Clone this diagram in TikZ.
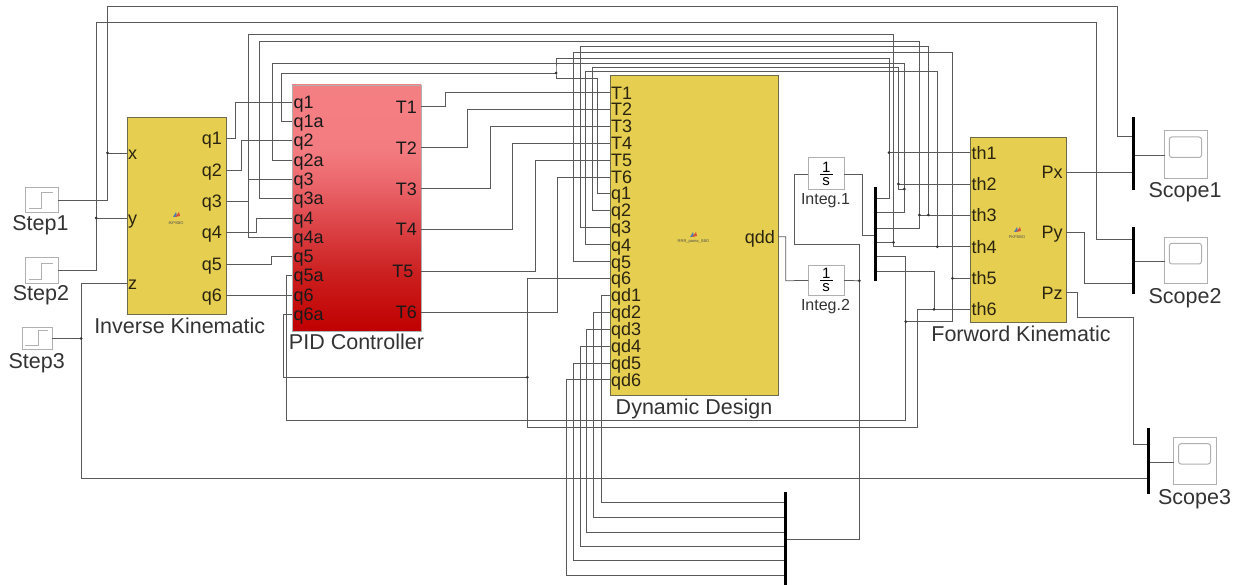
\documentclass[tikz,border=0pt]{standalone}
\usepackage{fontspec}
\setmainfont{Liberation Sans}
\definecolor{yel}{HTML}{E6CF50}
\definecolor{yeledge}{HTML}{6E6A4C}
\definecolor{wirec}{HTML}{5A5A5A}
\definecolor{boxc}{HTML}{B0B0B0}
\definecolor{txt}{HTML}{333333}
\definecolor{ptxt}{HTML}{2A2410}
\definecolor{pa}{HTML}{C00000}
\definecolor{pb}{HTML}{CC2020}
\definecolor{pc}{HTML}{DF4A4E}
\definecolor{pd}{HTML}{EC6A6F}
\definecolor{pe}{HTML}{F37C80}
\definecolor{pf}{HTML}{F47F83}
\definecolor{logoa}{HTML}{4A7FB5}
\definecolor{logob}{HTML}{D9553A}
\pgfdeclareverticalshading{pidsh}{100bp}{color(0bp)=(pa);color(25bp)=(pa);color(37bp)=(pb);color(48bp)=(pc);color(56bp)=(pd);color(62bp)=(pe);color(75bp)=(pf);color(100bp)=(pf)}
\tikzset{
 wire/.style={draw=wirec,line width=0.75pt},
 jdot/.style={circle,fill=black!80,inner sep=0pt,minimum size=3pt},
 subsys/.style={draw=yeledge,line width=1pt,fill=yel,inner sep=0pt,outer sep=0pt},
 graybox/.style={draw=boxc,line width=1pt,fill=white,inner sep=0pt,outer sep=0pt},
 barnode/.style={fill=black,inner sep=0pt,outer sep=0pt,minimum width=3.6pt},
 lab/.style={font=\fontsize{21.5}{21.5}\selectfont,text=txt,inner sep=0pt,text height=15pt,text depth=0pt},
 intlab/.style={font=\fontsize{16}{16}\selectfont,text=txt,inner sep=0pt,text height=11.5pt,text depth=0pt},
 frac/.style={font=\fontsize{15}{15}\selectfont,text=black,inner sep=0pt},
 portl/.style={font=\fontsize{18}{18}\selectfont,text=ptxt,inner sep=0pt,anchor=west,text height=12.9pt,text depth=0pt},
 portr/.style={portl,anchor=east},
 tiny/.style={font=\fontsize{4}{4}\selectfont,text=black!70,inner sep=0pt},
}
\newcommand{\logo}[2]{\fill[logoa] (#1-3,#2+2) -- (#1,#2-3) -- (#1+1,#2+2) -- cycle;
 \fill[logob] (#1-1,#2+2) -- (#1+3,#2-3) -- (#1+4,#2+1) -- cycle;}
\begin{document}
\begin{tikzpicture}[x=1pt,y=-1pt]
\useasboundingbox (0,0) rectangle (1236,585);
% blocks
\node[graybox,minimum width=33pt,minimum height=25pt] (s1) at (41.5,200.5) {};
\node[graybox,minimum width=33pt,minimum height=25pt] (s2) at (41.5,270.5) {};
\node[graybox,minimum width=30pt,minimum height=22pt] (s3) at (37,338.5) {};
\draw[boxc,line width=0.9pt] (29,208)--(41.7,208)--(41.7,192.7)--(53,192.7);
\draw[boxc,line width=0.9pt] (29,279.5)--(41.7,279.5)--(41.7,263)--(53,263);
\draw[boxc,line width=0.9pt] (25,345.7)--(38.3,345.7)--(38.3,330.7)--(48.3,330.7);
\node[lab] (ls1) at (40.5,223.5) {Step1};
\node[lab] (ls2) at (41,293) {Step2};
\node[lab] (ls3) at (36.7,361) {Step3};
\node[subsys,minimum width=99pt,minimum height=196pt] (ik) at (176.5,216) {};
\node[lab] (lik) at (179.7,326) {Inverse Kinematic};
\node[draw=boxc,line width=0.8pt,inner sep=0pt,outer sep=0pt,minimum width=129pt,minimum height=246pt,shading=pidsh] (pid) at (356.5,208) {};
\node[lab] (lpid) at (356.5,341.7) {PID Controller};
\node[subsys,minimum width=168pt,minimum height=319pt] (dyn) at (694,235.5) {};
\node[lab] (ldyn) at (694,407) {Dynamic Design};
\node[subsys,minimum width=96pt,minimum height=185pt] (fk) at (1018,230.2) {};
\node[lab] (lfk) at (1021,334) {Forword Kinematic};
\logo{176}{215}\node[tiny] (tik) at (176,223) {IKPSBO};
\logo{693}{235}\node[tiny] (tdyn) at (693.5,242) {RRR\_pama\_SBO};
\logo{1017}{230}\node[tiny] (tfk) at (1017,237) {FKPSBO};
% integrators
\node[graybox,minimum width=35.7pt,minimum height=32pt] (i1) at (826.2,174) {};
\node[graybox,minimum width=35.7pt,minimum height=30pt] (i2) at (826.2,280.5) {};
\node[frac] (i1n) at (826.2,167) {1};
\node[frac] (i1d) at (826.2,181.5) {s};
\node[frac] (i2n) at (826.2,273) {1};
\node[frac] (i2d) at (826.2,288) {s};
\draw[black,line width=0.8pt] (820,174)--(832.5,174) (820,280.5)--(832.5,280.5);
\node[intlab] (li1) at (825.5,198.3) {Integ.1};
\node[intlab] (li2) at (825.5,305) {Integ.2};
% scopes
\node[graybox,minimum width=42.5pt,minimum height=48.7pt] (sc1) at (1186.2,154.6) {};
\node[graybox,minimum width=42.5pt,minimum height=46.7pt] (sc2) at (1186.2,260.6) {};
\node[graybox,minimum width=42.5pt,minimum height=47.4pt] (sc3) at (1195.2,461) {};
\draw[boxc,line width=1pt,rounded corners=2.5pt] (1169.3,137)rectangle(1201.5,157.5);
\draw[boxc,line width=1pt,rounded corners=2.5pt] (1169.3,243.3)rectangle(1201.5,264);
\draw[boxc,line width=1pt,rounded corners=2.5pt] (1178.5,443.7)rectangle(1210.5,464);
\node[lab] (lsc1) at (1185,190) {Scope1};
\node[lab] (lsc2) at (1185,296) {Scope2};
\node[lab] (lsc3) at (1194.5,497) {Scope3};
% bars
\node[barnode,minimum height=73pt] (b1) at (1133.3,153.5) {};
\node[barnode,minimum height=66.2pt] (b2) at (1133.3,260.6) {};
\node[barnode,minimum height=66.3pt] (b3) at (1148.3,460.8) {};
\node[barnode,minimum height=93.4pt] (bi) at (875.5,234) {};
\node[barnode,minimum height=94pt] (bq) at (785.5,539) {};
% ports
\foreach \n/\t/\y in {x/x/153,y/y/218,z/z/283}{\coordinate (ik\n) at (127,\y);\node[portl] (lik\n) at (128,\y) {\t};}
\foreach \n/\y in {1/138,2/170,3/201,4/232,5/264,6/295}{\coordinate (ikq\n) at (226,\y);\node[portr] (likq\n) at (222,\y) {q\n};}
\foreach \n/\y in {q1/102,q1a/121,q2/140,q2a/160,q3/179,q3a/198.5,q4/218,q4a/237,q5/256.5,q5a/275.5,q6/295,q6a/314}{\coordinate (p\n) at (292,\y);\node[portl,text=black!90] (lp\n) at (293.5,\y) {\n};}
\foreach \n/\y/\xr in {T1/106.7/417,T2/147.7/417,T3/188.7/417,T4/229.5/417,T5/271/413.5,T6/312/417}{\coordinate (p\n) at (421,\y);\node[portr,text=black!90] (lp\n) at (\xr,\y) {\n};}
\foreach \n/\y in {T1/92.7,T2/109.5,T3/126.3,T4/143.2,T5/160,T6/177,q1/193.3,q2/210.5,q3/227.5,q4/244.7,q5/261.7,q6/278.3,qd1/295.3,qd2/312,qd3/329,qd4/346,qd5/363,qd6/379.7}{\coordinate (d\n) at (610,\y);\node[portl] (ld\n) at (611,\y) {\n};}
\coordinate (dqdd) at (778,236.7);\node[portr] (ldqdd) at (775,236.7) {qdd};
\foreach \n/\y in {th1/152.7,th2/184,th3/215,th4/246.7,th5/278.3,th6/309.3}{\coordinate (f\n) at (970,\y);\node[portl] (lf\n) at (971.5,\y) {\n};}
\foreach \n/\y in {Px/172,Py/232,Pz/292.7}{\coordinate (f\n) at (1066,\y);\node[portr] (lf\n) at (1062.7,\y) {\n};}
% junctions
\coordinate (j1) at (107.5,153);
\coordinate (j2) at (96,218);
\coordinate (j3) at (81,338.5);
\coordinate (jtop) at (556,73);
\coordinate (jq6) at (527.3,377.3);
\coordinate (jth1) at (889,152.7);
\coordinate (jth2) at (898.3,184);
\coordinate (j2b) at (904.3,189);
\coordinate (jth3a) at (919.3,215);
\coordinate (jth3b) at (928.3,215);
\coordinate (jth4a) at (893.5,242.3);
\coordinate (jth4b) at (937.3,246.7);
\coordinate (jth5) at (952.5,278.3);
\coordinate (j5) at (905.7,321.7);
\coordinate (jth6) at (934,309.3);
\coordinate (jint) at (859.3,280.7);
% step wires
\draw[wire] (s1.east) -| (107.5,6.5) -| (1117,136) -- (b1.west |- 0,136);
\draw[wire] (j1) -- (ikx);
\draw[wire] (s2.east) -| (96,22.5) -| (1096,239.5) -- (b2.west |- 0,239.5);
\draw[wire] (j2) -- (iky);
\draw[wire] (s3.east) -- (j3);
\draw[wire] (ikz) -| (81,478.5) -- (b3.west |- 0,478.5);
% IK to PID
\draw[wire] (ikq1) -| (235,102) -- (pq1);
\draw[wire] (ikq2) -| (241,140) -- (pq2);
\draw[wire] (ikq3) -| (248.5,179) -- (pq3);
\draw[wire] (ikq4) -| (256,218) -- (pq4);
\draw[wire] (ikq5) -| (271,256.5) -- (pq5);
\draw[wire] (ikq6) -- (pq6);
% PID feedback
\draw[wire] (pq1a) -| (281.5,73) -- (jtop);
\draw[wire] (pq2a) -| (272.5,63) -| (904.3,212.8) -- (bi.east |- 0,212.8);
\draw[wire] (pq3a) -| (259,41.5) -| (919.3,228) -- (bi.east |- 0,228);
\draw[wire] (pq4a) -- (248.5,237) |- (893.5,34.3) -- (893.5,246.7) -- (fth4);
\draw[wire] (pq5a) -| (286,420.7) -| (905.7,256.7) -- (bi.east |- 0,256.7);
\draw[wire] (pq6a) -| (283,377.3) -- (jq6);
% PID to Dyn
\draw[wire] (pT1) -| (445,92.7) -- (dT1);
\draw[wire] (pT2) -| (467.7,109.5) -- (dT2);
\draw[wire] (pT3) -| (490,126.3) -- (dT3);
\draw[wire] (pT4) -| (512.3,143.2) -- (dT4);
\draw[wire] (pT5) -| (535.3,160) -- (dT5);
\draw[wire] (pT6) -| (557.5,177) -- (dT6);
% joint-state lines
\draw[wire] (556,58) -- (jtop) -- (556,78) -| (597,193.3) -- (dq1);
\draw[wire] (556,58) -| (889,198.7) -- (bi.east |- 0,198.7);
\draw[wire] (dq2) -| (592,67) -| (jth2) -- (898.3,189) -- (j2b);
\draw[wire] (dq3) -| (580,46.3) -| (jth3b);
\draw[wire] (dq4) -| (585.7,71.3) -| (jth4b);
\draw[wire] (dq5) -| (573.5,52) -| (952.5,321.7) -- (j5);
\draw[wire] (dq6) -| (527.3,427.7) -| (917.7,309.3) -- (fth6);
\draw[wire] (jth6) |- (bi.east |- 0,271);
% to th ports
\draw[wire] (jth1) -- (fth1);
\draw[wire] (jth2) -- (fth2);
\draw[wire] (jth3a) -- (fth3);
\draw[wire] (jth4a) -- (bi.east |- jth4a);
\draw[wire] (jth5) -- (fth5);
% integrators
\draw[wire] (dqdd) -| (785.7,280.7) -- (i2.west);
\draw[wire] (i2.east) -- (jint);
\draw[wire] (i1.east) -| (862.3,235) -- (bi.west |- 0,235);
\draw[wire] (i1.west) -| (794.3,244.3) -| (859.3,539) -- (bq.east |- 0,539);
% qd to bottom bar
\draw[wire] (dqd1) -| (601,502.7) -- (bq.west |- 0,502.7);
\draw[wire] (dqd2) -| (593.7,517.3) -- (bq.west |- 0,517.3);
\draw[wire] (dqd3) -| (586,532) -- (bq.west |- 0,532);
\draw[wire] (dqd4) -| (580,546.3) -- (bq.west |- 0,546.3);
\draw[wire] (dqd5) -| (573.7,560.7) -- (bq.west |- 0,560.7);
\draw[wire] (dqd6) -| (566.7,575) -- (bq.west |- 0,575);
% scopes
\draw[wire] (fPx) -- (b1.west |- fPx);
\draw[wire] (fPy) -| (1084,283.3) -- (b2.west |- 0,283.3);
\draw[wire] (fPz) -| (1077,317) -| (1133.7,444.7) -- (b3.west |- 0,444.7);
\draw[wire] (b1.east |- 0,155) -- (sc1.west |- 0,155);
\draw[wire] (b2.east |- 0,261.7) -- (sc2.west |- 0,261.7);
\draw[wire] (b3.east |- 0,462) -- (sc3.west |- 0,462);
% dots
\foreach \j in {j1,j2,j3,jtop,jq6,jth1,jth2,j2b,jth3a,jth3b,jth4a,jth4b,jth5,j5,jth6,jint}{\node[jdot] at (\j) {};}
\end{tikzpicture}
\end{document}
